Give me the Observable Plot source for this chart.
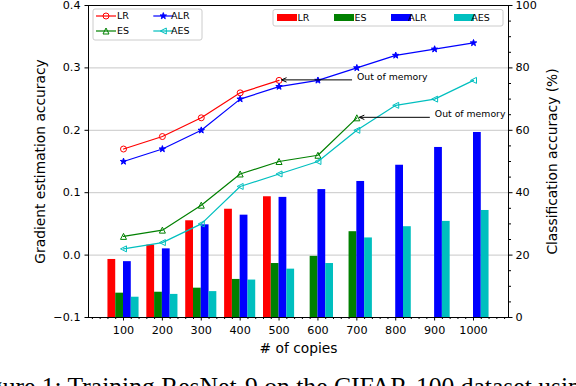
<!DOCTYPE html>
<html><head><meta charset="utf-8">
<script src="https://cdn.jsdelivr.net/npm/d3@7"></script>
<script src="https://cdn.jsdelivr.net/npm/@observablehq/plot@0.6"></script>
<style>
html,body{margin:0;padding:0;background:#fff;}
#wrap{position:relative;width:576px;height:386px;overflow:hidden;}
#caption{position:absolute;left:-31.5px;top:373.6px;font-family:"Liberation Serif";font-size:25.6px;line-height:25.6px;white-space:nowrap;color:#000;}
</style></head><body>
<div id="wrap"><div id="chart"></div><div id="caption">Figure 1: Training ResNet-9 on the CIFAR-100 dataset using</div></div>
<script>
// ---- data ----
const copies = [100, 200, 300, 400, 500, 600, 700, 800, 900, 1000];
const seriesNames = ["LR", "ES", "ALR", "AES"];
const seriesColors = ["#ff0000", "#008000", "#0000ff", "#00bfbf"];

// gradient estimation accuracy (lines, left axis)
const gradLR  = [0.17, 0.19, 0.22, 0.26, 0.28];
const gradES  = [0.03, 0.04, 0.08, 0.13, 0.15, 0.16, 0.22];
const gradALR = [0.15, 0.17, 0.20, 0.25, 0.27, 0.28, 0.30, 0.32, 0.33, 0.34];
const gradAES = [0.01, 0.02, 0.05, 0.11, 0.13, 0.15, 0.20, 0.24, 0.25, 0.28];

// classification accuracy % (bars, right axis)
const accLR  = [18.6, 23.2, 31.0, 34.7, 38.7];
const accES  = [7.8, 8.1, 9.4, 12.2, 17.3, 19.6, 27.5];
const accALR = [17.9, 22.0, 29.7, 32.8, 38.5, 41.0, 43.6, 48.8, 54.5, 59.3];
const accAES = [6.5, 7.4, 8.3, 12.0, 15.5, 17.3, 25.5, 29.1, 30.8, 34.3];

const leftTicks = [-0.1, 0.0, 0.1, 0.2, 0.3, 0.4];
const rightTicks = [0, 20, 40, 60, 80, 100];
const xDomain = [10, 1090];
const leftDomain = [-0.1, 0.4];
const rightDomain = [0, 100];
const xLabel = "# of copies";
const leftLabel = "Gradient estimation accuracy";
const rightLabel = "Classification accuracy (%)";
const noteText = "Out of memory";

// ---- build ----
const gradSeries = [gradLR, gradES, gradALR, gradAES];
const accSeries = [accLR, accES, accALR, accAES];
const toLeft = p => leftDomain[0] + (p - rightDomain[0]) / (rightDomain[1] - rightDomain[0]) * (leftDomain[1] - leftDomain[0]);
const rightMinor = d3.range(5, 100, 5).filter(v => v % 20 !== 0);
const xMinor = d3.range(20, 1081, 20).filter(v => v % 100 !== 0);
const barW = 20;

const triUp = {draw(c, s) { const h = Math.sqrt(s / Math.PI); c.moveTo(0, -h); c.lineTo(h, h); c.lineTo(-h, h); c.closePath(); }};
const triLeft = {draw(c, s) { const h = Math.sqrt(s / Math.PI); c.moveTo(-h, 0); c.lineTo(h, -h); c.lineTo(h, h); c.closePath(); }};
const star5 = {draw(c, s) { const h = Math.sqrt(s / Math.PI); for (let k = 0; k < 10; k++) { const r = k % 2 ? h * 0.4 : h; const a = -Math.PI / 2 + k * Math.PI / 5; const px = r * Math.cos(a), py = r * Math.sin(a); k ? c.lineTo(px, py) : c.moveTo(px, py); } c.closePath(); }};
const circ = {draw(c, s) { const h = Math.sqrt(s / Math.PI); c.moveTo(h, 0); c.arc(0, 0, h, 0, 2 * Math.PI); }};
const markers = [
  {symbol: circ, r: 3, fill: "none"},
  {symbol: triUp, r: 3, fill: "none"},
  {symbol: star5, r: 3.4, fill: "color"},
  {symbol: triLeft, r: 3, fill: "none"}
];

const marks = [Plot.ruleY(leftTicks.slice(1, -1), {stroke: "#c8c8c8", strokeWidth: 1})];
seriesNames.forEach((name, si) => {
  const bars = accSeries[si].map((p, i) => ({x: copies[i], p}));
  marks.push(Plot.rect(bars, {
    x1: d => d.x - 2 * barW + si * barW, x2: d => d.x - barW + si * barW,
    y1: () => leftDomain[0], y2: d => toLeft(d.p), fill: seriesColors[si]
  }));
});
seriesNames.forEach((name, si) => {
  const pts = gradSeries[si].map((v, i) => ({x: copies[i], y: v}));
  const m = markers[si];
  marks.push(Plot.line(pts, {x: "x", y: "y", stroke: seriesColors[si], strokeWidth: 1.2}));
  marks.push(Plot.dot(pts, {x: "x", y: "y", symbol: m.symbol, r: m.r, stroke: seriesColors[si],
    fill: m.fill === "color" ? seriesColors[si] : "none", strokeWidth: 1}));
});
// out-of-memory notes at the last LR and ES points
const lastPts = [0, 1].map(si => ({x: copies[gradSeries[si].length - 1], y: gradSeries[si][gradSeries[si].length - 1]}));
marks.push(Plot.text(lastPts, {x: "x", y: "y", text: () => noteText, dx: 78, dy: -3.8, textAnchor: "start", fontSize: 9.3, fill: "black"}));
marks.push(Plot.frame({stroke: "black", strokeWidth: 1}));
marks.push(Plot.axisY(leftTicks, {anchor: "left", tickFormat: d3.format(".1f"), tickSize: 3.5, tickPadding: 4.5, fontSize: 11.2, label: null}));
marks.push(Plot.axisY(rightTicks.map(toLeft), {anchor: "right", tickFormat: v => String(Math.round(rightDomain[0] + (v - leftDomain[0]) / (leftDomain[1] - leftDomain[0]) * (rightDomain[1] - rightDomain[0]))), tickSize: 3.5, tickPadding: 3.5, fontSize: 11.2, label: null}));
marks.push(Plot.axisY(rightMinor.map(toLeft), {anchor: "right", tickFormat: () => "", tickSize: 2, label: null}));
marks.push(Plot.axisX(copies, {anchor: "bottom", tickFormat: d => String(d), tickSize: 3.5, tickPadding: 5.5, fontSize: 11.2, label: null}));
marks.push(Plot.axisX(xMinor, {anchor: "bottom", tickSize: 2, tickFormat: () => "", label: null}));
marks.push(Plot.text([leftLabel], {text: d => d, frameAnchor: "left", dx: -48, rotate: -90, textAnchor: "middle", lineAnchor: "middle", fontSize: 13.8, fill: "black"}));
marks.push(Plot.text([rightLabel], {text: d => d, frameAnchor: "right", dx: 44, rotate: -90, textAnchor: "middle", lineAnchor: "middle", fontSize: 13.8, fill: "black"}));
marks.push(Plot.text([xLabel], {text: d => d, frameAnchor: "bottom", dy: 30.7, textAnchor: "middle", lineAnchor: "middle", fontSize: 13.8, fill: "black"}));

const fig = Plot.plot({
  width: 576, height: 360,
  marginLeft: 88, marginRight: 68, marginTop: 5, marginBottom: 43,
  style: {fontFamily: "DejaVu Sans", fontSize: "11.2px", background: "white", color: "black", overflow: "visible"},
  x: {type: "linear", domain: xDomain},
  y: {type: "linear", domain: leftDomain},
  marks
});
document.getElementById("chart").appendChild(fig);

// ---- annotations arrows & legends ----
const svg = d3.select(fig);
const sx = fig.scale("x").apply, sy = fig.scale("y").apply;
lastPts.forEach(p => {
  const px = sx(p.x), py = sy(p.y);
  const tip = px + 3, tail = px + 73.5;
  const g = svg.append("g").attr("stroke", "black").attr("fill", "none").attr("stroke-width", 1);
  g.append("line").attr("x1", tail).attr("y1", py).attr("x2", tip).attr("y2", py);
  g.append("path").attr("d", `M${tip + 5},${py - 2.2}L${tip},${py}L${tip + 5},${py + 2.2}`);
});

const legFont = 9.5;
// line legend
const L1 = svg.append("g").attr("font-family", "DejaVu Sans").attr("font-size", legFont);
L1.append("rect").attr("x", 93).attr("y", 9).attr("width", 109).attr("height", 31).attr("rx", 2)
  .attr("fill", "white").attr("fill-opacity", 0.8).attr("stroke", "#cccccc").attr("stroke-width", 1);
const legPos = [[96, 16], [96, 31], [153.3, 16], [153.3, 31]];
seriesNames.forEach((name, si) => {
  const [lx, ly] = legPos[si];
  const m = markers[si];
  L1.append("line").attr("x1", lx).attr("x2", lx + 20).attr("y1", ly).attr("y2", ly)
    .attr("stroke", seriesColors[si]).attr("stroke-width", 1.2);
  L1.append("path").attr("d", d3.symbol(m.symbol, m.r * m.r * Math.PI)())
    .attr("transform", `translate(${lx + 10},${ly})`).attr("stroke", seriesColors[si])
    .attr("fill", m.fill === "color" ? seriesColors[si] : "none").attr("stroke-width", 1);
  L1.append("text").attr("x", lx + 27).attr("y", ly).attr("dy", "0.35em").text(name);
});
// bar legend
const L2 = svg.append("g").attr("font-family", "DejaVu Sans").attr("font-size", legFont);
L2.append("rect").attr("x", 273).attr("y", 9.5).attr("width", 230).attr("height", 16.5).attr("rx", 2)
  .attr("fill", "white").attr("fill-opacity", 0.8).attr("stroke", "#cccccc").attr("stroke-width", 1);
const patchX = [277, 334, 391, 454];
seriesNames.forEach((name, si) => {
  L2.append("rect").attr("x", patchX[si]).attr("y", 14).attr("width", 20).attr("height", 7).attr("fill", seriesColors[si]);
  L2.append("text").attr("x", patchX[si] + 26.5).attr("y", 17.5).attr("dy", "0.35em").text(name);
});
</script>
</body></html>
